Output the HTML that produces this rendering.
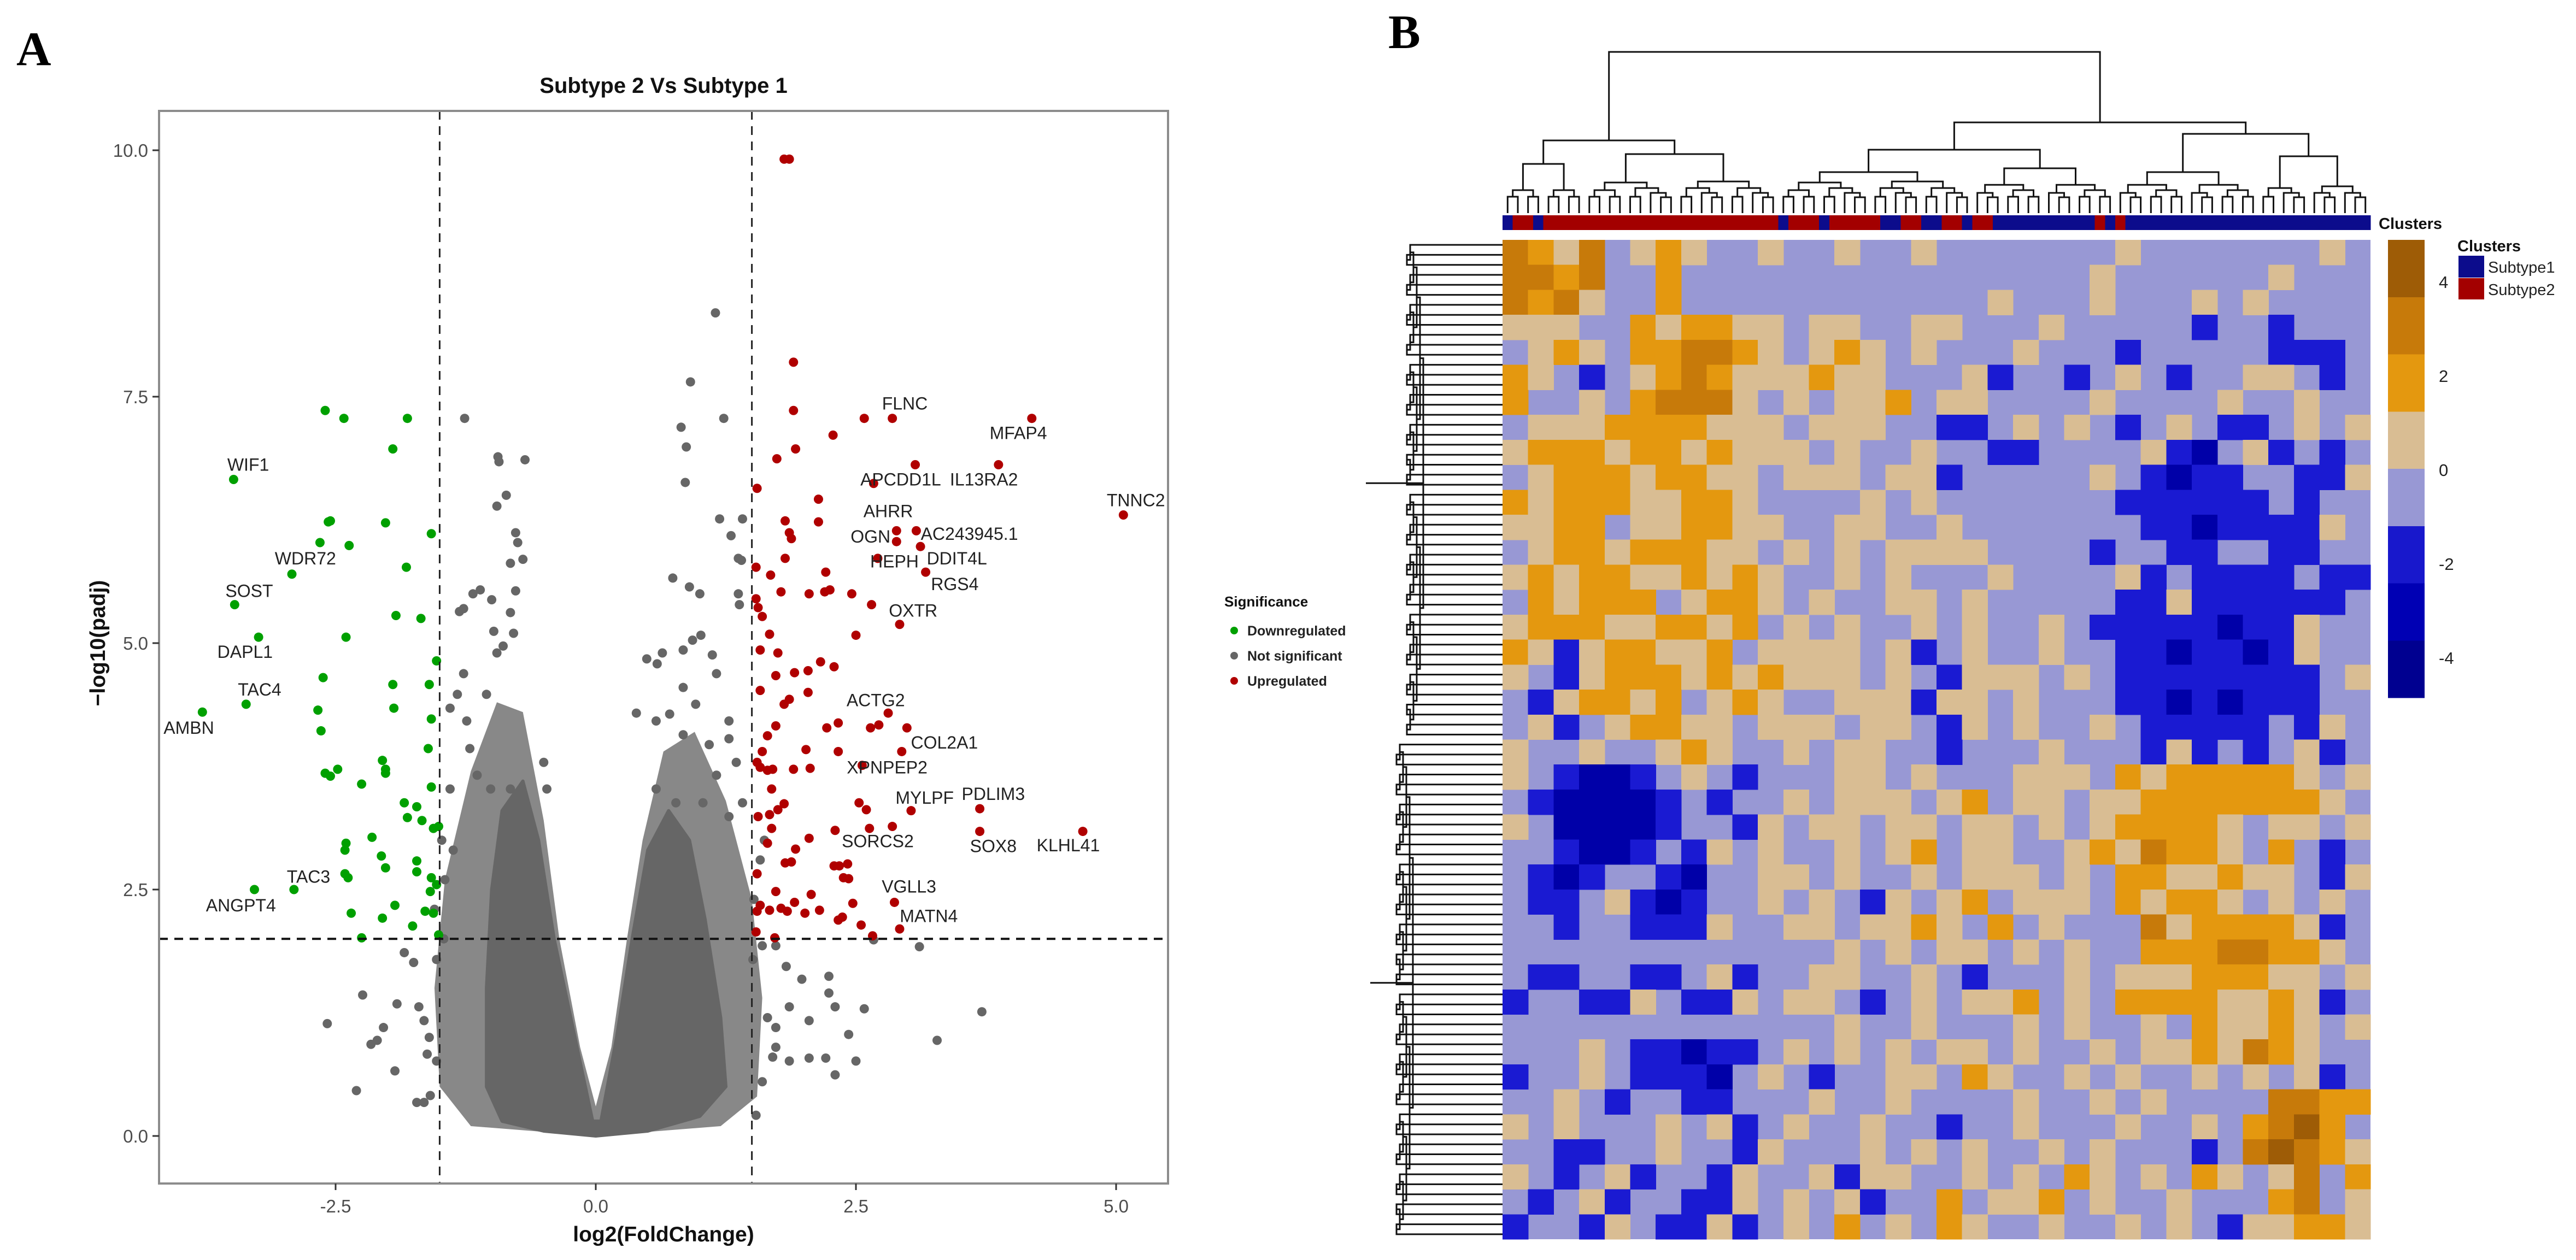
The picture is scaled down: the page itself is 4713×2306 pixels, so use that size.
<!DOCTYPE html>
<html><head><meta charset="utf-8"><title>Volcano and heatmap</title>
<style>
html,body{margin:0;padding:0;background:#fff;}
svg{display:block;}
text{font-family:"Liberation Sans",sans-serif;}
</style></head>
<body>
<svg id="fig" xmlns="http://www.w3.org/2000/svg" width="4713" height="2306" viewBox="0 0 4713 2306">
<rect x="0" y="0" width="4713" height="2306" fill="#fff"/>
<text x="30" y="119" font-weight="bold" font-size="88" fill="#000" style="font-family:'Liberation Serif',serif">A</text>
<text x="2540" y="88" font-weight="bold" font-size="88" fill="#000" style="font-family:'Liberation Serif',serif">B</text>
<g id="volcano"></g>
<g id="heat"></g>
</svg>
<script>
// ---------- Volcano data ----------
const xTicks=[-2.5,0,2.5,5];
const xTickLabels=["-2.5","0.0","2.5","5.0"];
const yTicks=[0,2.5,5,7.5,10];
const yTickLabels=["0.0","2.5","5.0","7.5","10.0"];
const fcCut=[-1.5,1.5];
const padjCut=2;
const downX=[-2.60,-2.42,-1.81,-1.95,-3.48,-2.57,-2.55,-2.02,-1.58,-2.65,-2.37,-2.92,-1.82,-3.47,-1.92,-1.68,-3.24,-2.40,-1.53,-2.62,-1.95,-1.60,-3.36,-2.67,-1.94,-3.78,-2.64,-1.58,-1.61,-2.05,-2.60,-2.55,-2.48,-2.02,-2.02,-2.25,-1.58,-1.84,-1.72,-1.81,-1.67,-1.56,-1.51,-2.15,-2.40,-2.41,-2.06,-2.02,-1.72,-1.72,-2.41,-2.38,-1.58,-1.53,-1.59,-2.90,-3.28,-1.93,-2.35,-2.05,-1.64,-1.56,-1.76,-2.25,-1.51];
const downY=[7.36,7.28,7.28,6.97,6.66,6.23,6.24,6.22,6.11,6.02,5.99,5.70,5.77,5.39,5.28,5.25,5.06,5.06,4.82,4.65,4.58,4.58,4.38,4.32,4.34,4.30,4.11,4.23,3.93,3.81,3.68,3.65,3.72,3.68,3.72,3.57,3.54,3.38,3.34,3.23,3.20,3.12,3.14,3.03,2.97,2.90,2.84,2.72,2.79,2.68,2.66,2.62,2.62,2.55,2.48,2.50,2.50,2.34,2.26,2.21,2.28,2.26,2.13,2.01,2.04];
const upX=[1.81,1.86,1.90,1.90,2.58,2.85,4.19,2.28,1.92,1.74,3.07,3.87,2.67,1.55,2.14,5.07,1.82,2.14,1.86,1.88,2.89,3.08,2.89,3.12,1.82,2.71,1.54,1.68,2.21,3.17,1.78,2.05,2.20,2.25,2.46,2.65,1.54,1.56,1.60,1.67,2.50,2.92,1.58,1.75,2.16,2.29,1.73,1.91,2.04,1.58,1.86,2.04,1.81,2.81,2.99,2.64,2.72,2.33,2.22,1.73,1.65,2.94,2.02,2.33,1.60,1.55,1.58,1.65,1.70,1.90,2.06,2.56,1.69,2.53,2.60,3.03,3.69,3.69,4.68,1.56,1.67,1.75,1.81,1.69,2.30,2.63,2.85,1.65,1.92,2.05,2.42,2.29,2.34,1.82,1.88,2.38,2.43,1.55,1.73,2.07,2.47,2.87,1.58,1.55,1.67,1.78,1.84,1.91,2.01,2.15,2.33,2.37,2.55,2.66,2.92,1.54,1.72];
const upY=[9.91,9.91,7.85,7.36,7.28,7.28,7.28,7.11,6.97,6.87,6.81,6.81,6.62,6.57,6.46,6.30,6.24,6.23,6.12,6.06,6.14,6.14,6.03,5.98,5.86,5.86,5.77,5.69,5.72,5.72,5.52,5.50,5.52,5.54,5.50,5.39,5.45,5.36,5.27,5.09,5.08,5.19,4.93,4.90,4.81,4.76,4.67,4.70,4.72,4.52,4.43,4.50,4.38,4.29,4.14,4.14,4.17,4.19,4.14,4.16,4.06,3.90,3.92,3.90,3.90,3.79,3.74,3.71,3.72,3.72,3.73,3.76,3.52,3.38,3.31,3.30,3.32,3.09,3.09,3.24,3.26,3.31,3.37,3.12,3.10,3.12,3.14,2.97,2.91,3.02,2.76,2.74,2.74,2.77,2.78,2.62,2.61,2.66,2.48,2.45,2.36,2.37,2.34,2.28,2.29,2.31,2.28,2.37,2.26,2.29,2.19,2.22,2.14,2.03,2.10,2.07,2.01];
const nsX=[1.15,0.91,0.82,1.23,0.87,0.86,-1.26,-0.94,-0.93,-0.68,-0.86,-0.95,-0.77,-0.75,-0.70,-0.82,1.19,1.41,1.30,1.37,1.40,0.74,0.90,1.00,1.37,1.38,-1.11,-1.18,-1.27,-1.31,-1.00,-0.77,-0.82,-0.98,-0.89,-0.95,-0.79,0.64,0.49,0.59,0.84,0.93,1.01,1.12,1.16,0.84,0.96,0.71,0.39,0.58,0.84,1.09,1.28,1.28,1.35,1.16,-1.27,-1.33,-1.40,-1.24,-1.05,-1.21,-1.14,-1.01,-0.82,-0.50,-0.47,-1.40,-1.37,0.58,0.77,1.03,1.28,1.41,1.51,1.60,1.73,1.83,1.98,2.24,2.24,2.30,1.86,1.73,2.05,1.86,2.05,2.21,2.30,2.43,2.58,2.50,3.28,3.71,3.11,2.67,1.73,1.60,1.54,-1.84,-1.75,-1.70,-1.65,-1.62,-1.59,-1.65,-1.91,-2.04,-2.10,-2.16,-2.24,-1.93,-2.30,-2.58,-1.72,-1.53,-1.53,-1.46,-1.45,-1.48,-1.55,-1.60,1.52,1.58,1.65,1.70,1.62];
const nsY=[8.35,7.65,7.19,7.28,6.99,6.63,7.28,6.89,6.84,6.86,6.50,6.39,6.12,6.02,5.85,5.81,6.26,6.26,6.09,5.86,5.84,5.66,5.57,5.50,5.50,5.39,5.54,5.50,5.35,5.32,5.44,5.53,5.31,5.12,4.97,4.90,5.10,4.90,4.84,4.79,4.93,5.03,5.08,4.88,4.69,4.55,4.38,4.28,4.29,4.21,4.07,3.97,4.03,4.21,3.79,3.66,4.69,4.48,4.34,4.21,4.48,3.93,3.66,3.52,3.52,3.79,3.52,3.52,2.90,3.52,3.38,3.38,3.24,3.38,1.79,1.93,1.93,1.72,1.59,1.62,1.45,1.31,1.31,1.10,1.17,0.76,0.79,0.79,0.62,1.03,1.29,0.76,0.97,1.26,1.92,1.99,0.90,0.55,0.21,1.86,1.76,1.31,1.17,0.83,0.41,0.34,1.34,1.10,0.97,0.93,1.43,0.66,0.46,1.14,0.34,0.76,1.79,2.00,2.60,3.00,2.30,1.00,2.40,2.80,1.20,0.80,3.00];
const fringeX=[-1.2,-1.5,-1.55,-1.45,-1.2,-0.95,-0.7,-0.5,-0.35,-0.15,0,0.15,0.3,0.45,0.65,0.95,1.25,1.5,1.6,1.55,1.2,0];
const fringeY=[0.1,0.5,1.5,2.6,3.7,4.4,4.3,3.2,2.0,0.9,0.3,0.9,2.0,3.0,3.9,4.1,3.4,2.4,1.4,0.4,0.1,0];
const coreX=[-0.9,-1.05,-1.05,-1.0,-0.9,-0.7,-0.55,-0.4,-0.2,-0.03,0.05,0.2,0.35,0.5,0.7,0.9,1.05,1.2,1.25,1.0,0.5,0,-0.5];
const coreY=[0.15,0.5,1.5,2.5,3.3,3.6,3.0,2.0,1.0,0.15,0.15,1.0,2.0,2.9,3.3,3.0,2.2,1.2,0.5,0.2,0.05,0,0.05];
const geneNames=["FLNC","MFAP4","APCDD1L","IL13RA2","TNNC2","AHRR","OGN","AC243945.1","HEPH","DDIT4L","RGS4","OXTR","ACTG2","COL2A1","XPNPEP2","MYLPF","PDLIM3","SORCS2","SOX8","KLHL41","VGLL3","MATN4","WIF1","WDR72","SOST","DAPL1","TAC4","AMBN","TAC3","ANGPT4"];
const geneX=[2.97,4.06,2.93,3.73,5.19,2.81,2.64,3.59,2.87,3.47,3.45,3.05,2.69,3.35,2.80,3.16,3.82,2.71,3.82,4.54,3.01,3.20,-3.34,-2.79,-3.33,-3.37,-3.23,-3.91,-2.76,-3.41];
const geneY=[7.43,7.13,6.66,6.66,6.45,6.34,6.08,6.11,5.83,5.86,5.60,5.33,4.42,3.99,3.74,3.43,3.47,2.99,2.94,2.95,2.53,2.23,6.81,5.86,5.53,4.91,4.53,4.14,2.63,2.34];
const legendLabels=["Downregulated","Not significant","Upregulated"];

// ---------- Heatmap data ----------
const heatRows=[
"dotdltotlltlltlltllllllltllllllltl",
"ddodllolllllllllllllllltlllllltlll",
"dodtllolllllllllllltllltllltltllll",
"tttllotoottlttllttllltlllllbllblll",
"ltotlooddotltotltllltlllblllllbbbl",
"otlbltodotttottllltbllbltlbllttlbl",
"olltlodddtltlttolttlllltlllltlltll",
"ltttooootttltttllbbltltlbltlbbltlt",
"toootoototttltlltllbblllltbnltblbl",
"ltoootoottltttlttbllllltlbnbbllbbt",
"otooottootlllltltlllllllbbbbbblbll",
"ttoolttoottllttlltlllllllbbnbbbbtl",
"ltootooottltltlttttllllbllbbllbbll",
"totoottototlltltllltlllltblbbbblbb",
"lotoooltootltllttltlllllbbtbbbbbbl",
"tooottootoltltlltltlltlbbbbbnbbtll",
"otbtoottolttttltbltlltllbbnbbnbtll",
"tlbtoootototttltlbtttltlbbbbbbbblt",
"lbtootoltotlltttbttltlllbbnbnbbbll",
"ltbltoottltttlttlbtltlltlbbbbblbtl",
"tlltlltotlltlttllbllltlllbtblbltbl",
"tlbnnbltlblllttltllltttlotoooootlt",
"lbnnnnblblltltttltolttlttoooooootl",
"tlnnnnbllbtlttlttlttltltooootlttlt",
"llbnnblbtltlltltolttlltotdootlolbl",
"lbnbllbnllttltlltltttltloottottlbt",
"lbbltbnblltltlbtltoltttlotootltltl",
"llbllbbbtllttlttotloltllldtooootbl",
"llllllllllllltltlttltltlloooddootl",
"lbbllbbltbllttlltlbllltltttooottlt",
"bllbbtlbbtlttlbltlttoltloooottotbl",
"llllllllllllltlltllltltlltlottotlt",
"llltlbbnbbltltltlttltlltlttotdotll",
"blltlbbbnltlbllttlotlltltlltltltbl",
"lltlbllbbllltlltlllltlltltllllddoo",
"tltllltltbltlltllblltllltlltlodrol",
"llbblltllbtllltltltlltltlllbldrdot",
"tlbltbllbtlltbttlltltlotltlotltdlo",
"lbltbllbbtltltbllolttoltlltlllodlt",
"bllbtlbbtbltloltlotlltlltltlbttoot"];
const clusterCols="B"+"RR"+"B"+"R".repeat(23)+"B"+"RRR"+"B"+"RRRRR"+"BB"+"RR"+"BB"+"RR"+"B"+"RR"+"B".repeat(10)+"R"+"B"+"R"+"B".repeat(24);
const colorbarLabels=["4","2","0","-2","-4"];
const colorbarValues=[4,2,0,-2,-4];

const NS="http://www.w3.org/2000/svg";
function mk(tag,attrs,parent){const e=document.createElementNS(NS,tag);for(const k in attrs)e.setAttribute(k,attrs[k]);parent.appendChild(e);return e;}

// ---------- Volcano ----------
const V=document.getElementById('volcano');
const L=291,R=2137,T=203,B=2166;
const X=v=>1090+190.4*v;
const Y=v=>2079-180.4*v;
let e;
e=mk('rect',{x:L,y:T,width:R-L,height:B-T,fill:'#fff',stroke:'none'},V);


let fpts=fringeX.map((x,i)=>X(x).toFixed(1)+','+Y(fringeY[i]).toFixed(1)).join(' ');
e=mk('polygon',{points:fpts,fill:'#666','fill-opacity':0.78,stroke:'none'},V);


let pts=coreX.map((x,i)=>X(x).toFixed(1)+','+Y(coreY[i]).toFixed(1)).join(' ');
e=mk('polygon',{points:pts,fill:'#666',stroke:'#666','stroke-width':6,'stroke-linejoin':'round'},V);


const gNs=mk('g',{fill:'#666'},V);


nsX.forEach((x,i)=>{const c=mk('circle',{cx:X(x),cy:Y(nsY[i]),r:8.5},gNs);

});
const gDn=mk('g',{fill:'#00a000'},V);


downX.forEach((x,i)=>{const c=mk('circle',{cx:X(x),cy:Y(downY[i]),r:8.5},gDn);

});
const gUp=mk('g',{fill:'#b00000'},V);


upX.forEach((x,i)=>{const c=mk('circle',{cx:X(x),cy:Y(upY[i]),r:8.5},gUp);

});
fcCut.forEach(v=>{const l=mk('line',{x1:X(v),x2:X(v),y1:T,y2:B,stroke:'#222','stroke-width':3,'stroke-dasharray':'16 12'},V);

});
e=mk('line',{x1:L,x2:R,y1:Y(padjCut),y2:Y(padjCut),stroke:'#111','stroke-width':4,'stroke-dasharray':'16 12'},V);


geneNames.forEach((n,i)=>{const t=mk('text',{x:X(geneX[i]),y:Y(geneY[i])+11,'font-size':32,'text-anchor':'middle',fill:'#222'},V);t.textContent=n;

});
e=mk('rect',{x:L,y:T,width:R-L,height:B-T,fill:'none',stroke:'#8c8c8c','stroke-width':4},V);


xTicks.forEach((v,i)=>{const l=mk('line',{x1:X(v),x2:X(v),y1:B,y2:B+12,stroke:'#333','stroke-width':3},V);


const t=mk('text',{x:X(v),y:2219,'font-size':33,'text-anchor':'middle',fill:'#4d4d4d'},V);t.textContent=xTickLabels[i];

});
yTicks.forEach((v,i)=>{const l=mk('line',{x1:L-12,x2:L,y1:Y(v),y2:Y(v),stroke:'#333','stroke-width':3},V);


const t=mk('text',{x:L-20,y:Y(v)+12,'font-size':33,'text-anchor':'end',fill:'#4d4d4d'},V);t.textContent=yTickLabels[i];

});
e=mk('text',{x:(L+R)/2,y:2272,'font-size':39,'font-weight':'bold','text-anchor':'middle',fill:'#111'},V);e.textContent='log2(FoldChange)';


e=mk('text',{x:0,y:0,'font-size':39,'font-weight':'bold','text-anchor':'middle',fill:'#111',transform:'translate(192,1177) rotate(-90)'},V);e.textContent='\u2212log10(padj)';


e=mk('text',{x:(L+R)/2,y:170,'font-size':40,'font-weight':'bold','text-anchor':'middle',fill:'#111'},V);e.textContent='Subtype 2 Vs Subtype 1';


const lg=mk('g',{},V);


e=mk('text',{x:2240,y:1110,'font-size':26,'font-weight':'bold',fill:'#111'},lg);e.textContent='Significance';


const lgCol=['#00a000','#666','#b00000'];
legendLabels.forEach((n,i)=>{const y=1154+46*i;
const c=mk('circle',{cx:2258,cy:y,r:7,fill:lgCol[i]},lg);


const t=mk('text',{x:2282,y:y+9,'font-size':25,'font-weight':'bold',fill:'#222'},lg);t.textContent=n;

});

// ---------- Heatmap ----------
const H=document.getElementById('heat');
const HL=2749,HR=4337,HT=439,HB=2268;
const pal={n:'#0000a8',b:'#1a1ad2',l:'#9898d4',t:'#d9bd93',o:'#e4980f',d:'#c77a0a',r:'#9e5c06'};
const nCols=34,nRows=heatRows.length;
const cw=(HR-HL)/nCols,ch=(HB-HT)/nRows;
const gc=mk('g',{'shape-rendering':'crispEdges'},H);


mk('rect',{x:HL,y:HT,width:HR-HL,height:HB-HT,fill:pal.l},gc);
heatRows.forEach((row,r)=>{for(let c=0;c<nCols;c++){const k=row[c]||'l';if(!pal[k]||k==='l')continue;
const rc=mk('rect',{x:(HL+c*cw).toFixed(1),y:(HT+r*ch).toFixed(1),width:(cw+0.6).toFixed(1),height:(ch+0.6).toFixed(1),fill:pal[k]},gc);

}});
const nLeaf=clusterCols.length,lw=(HR-HL)/nLeaf;
const gb=mk('g',{'shape-rendering':'crispEdges'},H);


for(let i=0;i<nLeaf;i++){const rc=mk('rect',{x:(HL+i*lw).toFixed(1),y:394,width:(lw+0.6).toFixed(1),height:27,fill:clusterCols[i]==='B'?'#0c0c8c':'#a30000'},gb);

}
e=mk('text',{x:4352,y:419,'font-size':29,'font-weight':'bold',fill:'#111'},H);e.textContent='Clusters';


const gd=mk('g',{stroke:'#111','stroke-width':3,fill:'none'},H);


const splitMap={"0-85":27,"0-27":8,"27-85":60,"27-60":46,"60-85":74};
const hMap={"0-85":95,"0-27":257,"27-85":224,"0-8":300,"8-27":282,"27-60":274,"60-85":245,"27-46":315,"46-60":308,"60-74":315,"74-85":286};
function colTree(lo,hi,parentY){
 if(hi-lo===1){return {x:HL+(lo+0.5)*lw,y:390};}
 const key=lo+'-'+hi; let y=hMap[key]; if(y===undefined){y=Math.max(parentY+8,372-12*Math.log2(hi-lo));}
 const mid=splitMap[key]!==undefined?splitMap[key]:Math.floor((lo+hi)/2);
 const a=colTree(lo,mid,y),b=colTree(mid,hi,y);
 const p=mk('path',{d:`M${a.x.toFixed(1)},${a.y}V${y}H${b.x.toFixed(1)}V${b.y}`},gd);
 
 
 return {x:(a.x+b.x)/2,y:y};
}
colTree(0,nLeaf,0);
const gr=mk('g',{stroke:'#111','stroke-width':3,fill:'none'},H);


const nR=100,rh=(HB-HT)/nR;
function rowTree(lo,hi,parentX,rootX){
 if(hi-lo===1){return {x:HL,y:HT+(lo+0.5)*rh};}
 let x=(rootX!==undefined)?rootX:Math.min(parentX-6,2738-14*Math.log2(hi-lo));
 const mid=Math.floor((lo+hi)/2);
 const a=rowTree(lo,mid,x),b=rowTree(mid,hi,x);
 const p=mk('path',{d:`M${a.x.toFixed(1)},${a.y.toFixed(1)}H${x.toFixed(1)}V${b.y.toFixed(1)}H${b.x.toFixed(1)}`},gr);
 
 
 return {x:x,y:(a.y+b.y)/2};
}
const r1=rowTree(0,50,9999,2604);
e=mk('line',{x1:2499,x2:2604,y1:r1.y,y2:r1.y},gr);


const r2=rowTree(50,100,9999,2585);
e=mk('line',{x1:2507,x2:2585,y1:r2.y,y2:r2.y},gr);


const cbCols=['#9e5c06','#c77a0a','#e4980f','#d9bd93','#9898d4','#1818cc','#0000b4','#000090'];
const CBT=439,CBB=1277,bh=(CBB-CBT)/cbCols.length;
const gcb=mk('g',{'shape-rendering':'crispEdges'},H);


cbCols.forEach((c,i)=>{const rc=mk('rect',{x:4369,y:CBT+i*bh,width:67,height:bh+0.5,fill:c},gcb);

});
const CBY=v=>860-86*v;
colorbarValues.forEach((v,i)=>{const t=mk('text',{x:4462,y:CBY(v)+11,'font-size':31,fill:'#222'},H);t.textContent=colorbarLabels[i];

});
e=mk('text',{x:4496,y:460,'font-size':29,'font-weight':'bold',fill:'#111'},H);e.textContent='Clusters';


e=mk('rect',{x:4498,y:468,width:47,height:40,fill:'#0c0c8c'},H);


e=mk('rect',{x:4498,y:509,width:47,height:39,fill:'#a30000'},H);


e=mk('text',{x:4552,y:499,'font-size':29,fill:'#222'},H);e.textContent='Subtype1';


e=mk('text',{x:4552,y:540,'font-size':29,fill:'#222'},H);e.textContent='Subtype2';


</script>
</body></html>
